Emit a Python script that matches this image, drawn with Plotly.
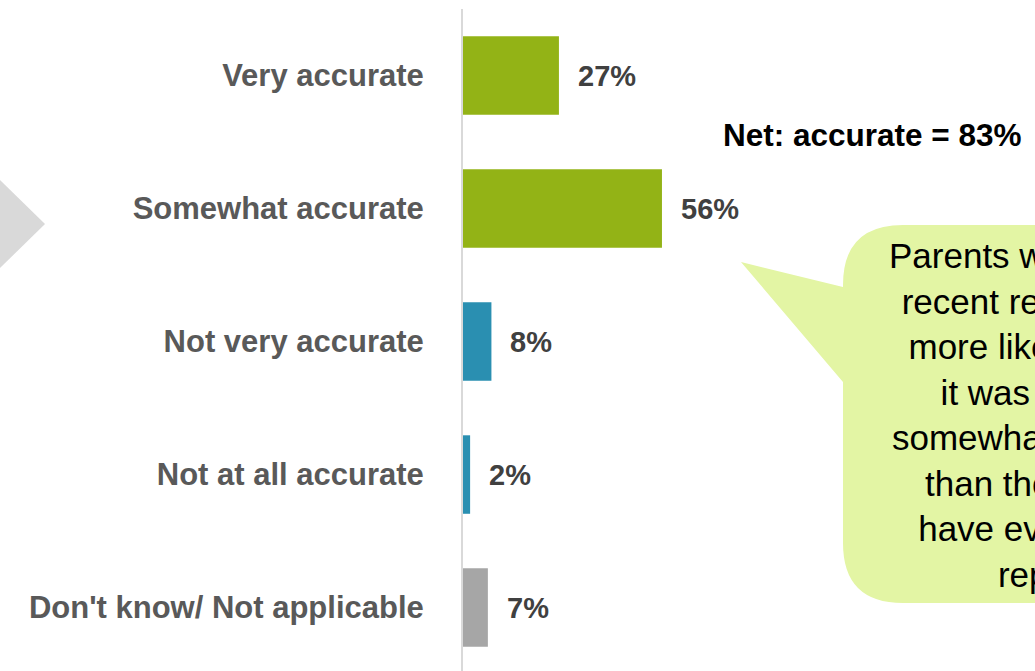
import plotly.graph_objects as go

# Data:
categories = ["Very accurate", "Somewhat accurate", "Not very accurate",
              "Not at all accurate", "Don't know/ Not applicable"]
values = [27, 56, 8, 2, 7]
bar_colors = ["#93B316", "#93B316", "#2A8FB1", "#2A8FB1", "#A6A6A6"]
value_labels = ["27%", "56%", "8%", "2%", "7%"]
net_label = "Net: accurate = 83%"
callout_text = ("Parents who have a<br>recent report were<br>more likely to say<br>"
                "it was very or<br>somewhat accurate<br>than those who<br>"
                "have ever had a<br>report")

W, H = 1035, 671

# page pixel -> paper helpers (figure margins are zero, body margin removed)
def px(x):
    return x / W

def py(y):
    return 1 - y / H

def path(segments):
    # one command per point, plotly drops extra params in a segment
    out = []
    for cmd, pts in segments:
        if cmd == "Q":
            out.append("Q " + " ".join(f"{px(a):.5f},{py(b):.5f}" for a, b in pts))
        else:
            for a, b in pts:
                out.append(f"{cmd} {px(a):.5f},{py(b):.5f}")
    return " ".join(out) + " Z"

fig = go.Figure(
    go.Bar(
        x=values,
        y=categories,
        orientation="h",
        marker=dict(color=bar_colors, line=dict(width=0)),
        width=0.59,
        hoverinfo="skip",
    )
)

# value labels next to each bar
for cat, val, lab in zip(categories, values, value_labels):
    fig.add_annotation(
        x=val, y=cat, text=lab, showarrow=False,
        xanchor="left", yanchor="middle", xshift=17,
        font=dict(family="Liberation Sans", size=29, color="#404040", weight="bold"),
    )

# gray arrow on the left
fig.add_shape(
    type="path", xref="paper", yref="paper",
    path=path([("M", [(-2, 178)]), ("L", [(45, 224), (-2, 270)])]),
    fillcolor="#D9D9D9", line=dict(width=0), layer="below",
)

# speech bubble
fig.add_shape(
    type="path", xref="paper", yref="paper",
    path=path([
        ("M", [(903, 225)]), ("L", [(1120, 225), (1120, 603), (903, 603)]),
        ("Q", [(843, 603), (843, 543)]),
        ("L", [(843, 382), (741, 262), (843, 287), (843, 285)]),
        ("Q", [(843, 225), (903, 225)]),
    ]),
    fillcolor="#E3F5A4", line=dict(width=0), layer="above",
)

fig.add_annotation(
    x=px(1044), y=py(415), xref="paper", yref="paper",
    text=callout_text, showarrow=False, align="center",
    xanchor="center", yanchor="middle",
    font=dict(family="Liberation Sans", size=35, color="#000000"),
)

fig.add_annotation(
    x=px(872), y=py(135), xref="paper", yref="paper",
    text=net_label, showarrow=False, xanchor="center", yanchor="middle",
    font=dict(family="Liberation Sans", size=31.5, color="#000000", weight="bold"),
)

fig.update_layout(
    width=W, height=H,
    margin=dict(l=0, r=0, t=0, b=0),
    plot_bgcolor="white",
    paper_bgcolor="white",
    showlegend=False,
    xaxis=dict(
        domain=[px(463), 1],
        range=[0, 161],
        visible=False,
        fixedrange=True,
    ),
    yaxis=dict(
        domain=[0, py(9)],
        categoryorder="array",
        categoryarray=categories,
        range=[4.477, -0.5],
        showline=True, linecolor="#D9D9D9", linewidth=2,
        showgrid=False, zeroline=False,
        ticks="", ticklabelstandoff=31,
        tickfont=dict(family="Liberation Sans", size=31, color="#595959", weight="bold"),
        fixedrange=True,
    ),
)

fig.write_html(
    "out.html",
    config={"displayModeBar": False},
    post_script="document.body.style.margin='0';document.body.style.overflow='hidden';",
)
